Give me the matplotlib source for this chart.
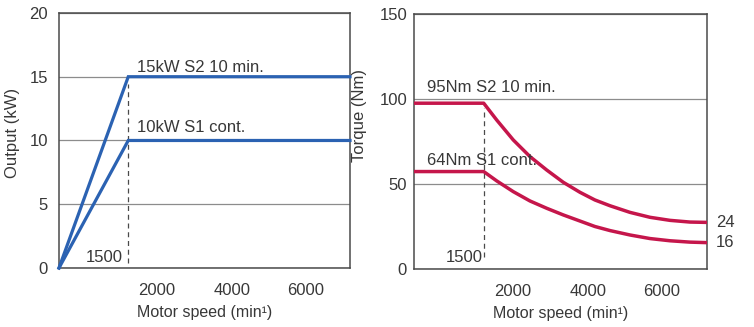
#!/usr/bin/env python3
"""Spindle motor output / torque characteristic charts (S1 cont. vs S2 10 min)."""
import matplotlib

matplotlib.use("Agg")
import matplotlib.pyplot as plt

BLUE = "#2b62b2"
RED = "#c5164b"
INK = "#383838"
SPINE = "#4a4a4a"
GRID = "#8c8c8c"

plt.rcParams.update({
    "font.family": ["Liberation Sans", "DejaVu Sans"],
    "font.size": 12,
    "text.color": INK,
    "axes.labelcolor": INK,
    "xtick.color": INK,
    "ytick.color": INK,
})

# --- data -------------------------------------------------------------------
# motor speed (min^-1); the knee is at 1500, the right edge is the top speed
SPEED_OUT = [0, 1500, 6300]
OUT_S2 = [0, 15, 15]      # kW, S2 10 min
OUT_S1 = [0, 10, 10]      # kW, S1 continuous

SPEED_TQ = [0, 1500, 1780, 2135, 2495, 2855, 3210, 3570, 3890,
            4215, 4645, 5075, 5505, 5935, 6300]
TQ_S2 = [97.5, 97.5, 87.6, 75.9, 66.1, 58.2, 51.0, 45.1, 40.6,
         37.2, 33.3, 30.4, 28.6, 27.6, 27.4]
TQ_S1 = [57.3, 57.3, 51.8, 45.5, 40.0, 35.7, 31.8, 28.2, 25.0,
         22.6, 20.0, 17.9, 16.6, 15.8, 15.5]

KNEE = 1500
X_MAX = 6300
# the source drawing places its speed labels schematically, not to scale
XTICK_POS = [2120, 3750, 5330]
XTICK_LABELS = ["2000", "4000", "6000"]
OUT_TICKS = [0, 5, 10, 15, 20]
TQ_TICKS = [0, 50, 100, 150]

fig = plt.figure(figsize=(7.54, 3.27), dpi=100)
ax1 = fig.add_axes([0.0782, 0.1804, 0.386, 0.780])
ax2 = fig.add_axes([0.549, 0.1774, 0.3886, 0.780])


def style(ax, yticks, ymax):
    ax.set_xlim(0, X_MAX)
    ax.set_ylim(0, ymax)
    ax.set_xticks(XTICK_POS, XTICK_LABELS)
    ax.set_yticks(yticks)
    ax.tick_params(axis="x", length=0, pad=11, labelsize=12)
    ax.tick_params(axis="y", length=0, labelsize=12)
    for s in ax.spines.values():
        s.set_color(SPINE)
        s.set_linewidth(1.1)
    ax.grid(axis="y", color=GRID, linewidth=0.9, zorder=0)
    ax.set_axisbelow(True)
    ax.set_xlabel("Motor speed (min¹)", fontsize=11.5, labelpad=5)


# ---------------------------------------------------------------------------
# left: output
# ---------------------------------------------------------------------------
style(ax1, OUT_TICKS, 20)
ax1.tick_params(axis="y", pad=8)
ax1.plot(SPEED_OUT, OUT_S2, color=BLUE, linewidth=2.3, zorder=3, clip_on=False,
         solid_joinstyle="miter")
ax1.plot(SPEED_OUT, OUT_S1, color=BLUE, linewidth=2.3, zorder=3, clip_on=False,
         solid_joinstyle="miter")
ax1.vlines(KNEE, 0.4, OUT_S2[1] - 0.6, colors=SPINE, linewidth=0.9,
           linestyles=(0, (4, 3)), zorder=2)
ax1.text(1680, 15.15, "15kW S2 10 min.", va="bottom", fontsize=12)
ax1.text(1680, 10.4, "10kW S1 cont.", va="bottom", fontsize=12)
ax1.text(1370, 0.8, "1500", ha="right", va="center", fontsize=12)
ax1.set_ylabel("Output (kW)", fontsize=12)
ax1.yaxis.set_label_coords(-0.135, 0.53)

# ---------------------------------------------------------------------------
# right: torque
# ---------------------------------------------------------------------------
style(ax2, TQ_TICKS, 150)
ax2.tick_params(axis="y", pad=5)
ax2.plot(SPEED_TQ, TQ_S2, color=RED, linewidth=2.5, zorder=3,
         solid_joinstyle="round")
ax2.plot(SPEED_TQ, TQ_S1, color=RED, linewidth=2.5, zorder=3,
         solid_joinstyle="round")
ax2.vlines(KNEE, 7, TQ_S2[1] - 3, colors=SPINE, linewidth=0.9,
           linestyles=(0, (4, 3)), zorder=2)
ax2.text(280, 102.4, "95Nm S2 10 min.", va="bottom", fontsize=12)
ax2.text(280, 59.4, "64Nm S1 cont.", va="bottom", fontsize=12)
ax2.text(1470, 6.5, "1500", ha="right", va="center", fontsize=12)
for val, label in ((TQ_S2[-1], "24"), (TQ_S1[-1], "16")):
    ax2.annotate(label, (SPEED_TQ[-1], val), textcoords="offset points",
                 xytext=(6.5, 0), va="center", fontsize=12, annotation_clip=False)
ax2.set_ylabel("Torque (Nm)", fontsize=12)
ax2.yaxis.set_label_coords(-0.16, 0.60)

fig.savefig("out.png", dpi=100)
